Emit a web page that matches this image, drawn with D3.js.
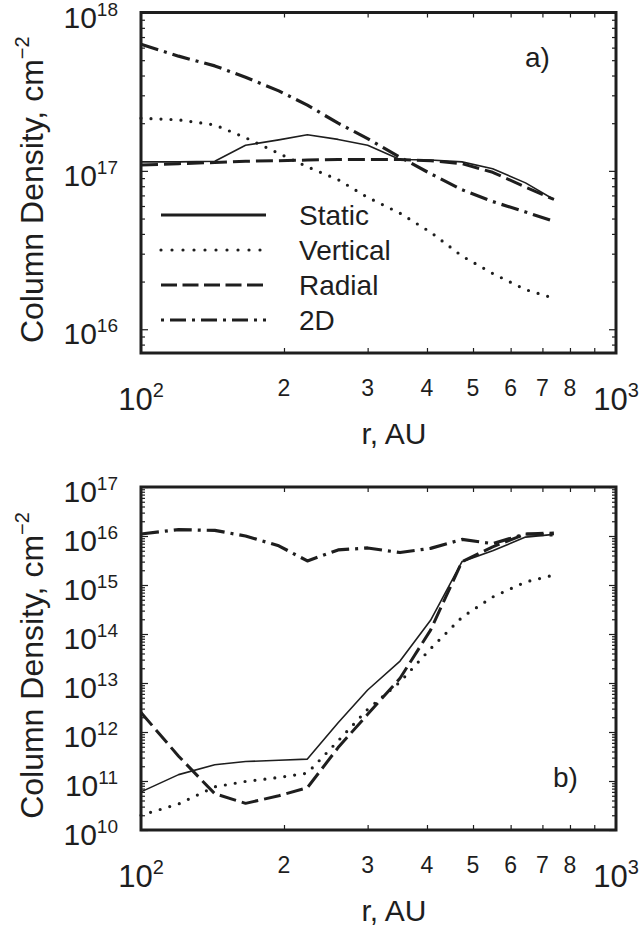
<!DOCTYPE html>
<html><head><meta charset="utf-8">
<script src="https://cdn.jsdelivr.net/npm/d3@7"></script>
<style>
body{margin:0;background:#fff}
svg{display:block}
text{font-family:"Liberation Sans",Arial,Helvetica,sans-serif;fill:#1e1e1e}
</style>
</head><body>
<svg id="c" width="643" height="932"></svg>
<script>
// ---- data ----
const radius = [100,120,143,166,195,224,260,300,351,407,474,550,645,740];

// panel a
const aStatic   = [1.14e17,1.14e17,1.15e17,1.45e17,1.57e17,1.69e17,1.58e17,1.45e17,1.18e17,1.17e17,1.14e17,1.03e17,8.4e16,6.6e16];
const aVertical = [2.15e17,2.1e17,1.95e17,1.62e17,1.29e17,1.06e17,8.8e16,6.8e16,5.4e16,4.1e16,2.9e16,2.25e16,1.78e16,1.57e16];
const aRadial   = [1.09e17,1.11e17,1.13e17,1.15e17,1.16e17,1.17e17,1.18e17,1.18e17,1.18e17,1.16e17,1.11e17,9.8e16,7.9e16,6.6e16];
const a2D       = [6.3e17,5.3e17,4.6e17,3.9e17,3.2e17,2.6e17,2.0e17,1.6e17,1.22e17,9.6e16,7.6e16,6.4e16,5.5e16,4.8e16];

// panel b
const bStatic   = [6.0e10,1.35e11,2.15e11,2.5e11,2.65e11,2.8e11,1.55e12,7.2e12,2.8e13,1.9e14,3.0e15,5.0e15,9.5e15,1.08e16];
const bVertical = [2.0e10,3.4e10,7.6e10,9.8e10,1.18e11,1.45e11,6.6e11,2.9e12,1.05e13,5.0e13,2.2e14,5.7e14,1.15e15,1.6e15];
const bRadial   = [2.5e12,3.2e11,5.5e10,3.5e10,5.0e10,7.3e10,4.8e11,2.3e12,1.25e13,1.2e14,3.0e15,6.0e15,1.1e16,1.15e16];
const b2D       = [1.1e16,1.35e16,1.3e16,1.0e16,6.3e15,3.1e15,5.2e15,5.7e15,4.6e15,5.6e15,8.5e15,7.0e15,1.1e16,1.05e16];

const seriesNames = ["Static","Vertical","Radial","2D"];
const xMinorLabels = [2,3,4,5,6,7,8];
const xDecadeTicks = [100,1000];
const aDecadeTicks = [1e16,1e17,1e18];
const bDecadeTicks = [1e10,1e11,1e12,1e13,1e14,1e15,1e16,1e17];
const panelLabels = ["a)","b)"];
const xTitle = "r, AU";
const yTitle = "Column Density, cm";

// ---- styles ----
const INK = "#1e1e1e";
const styles = {
  "Static":   {w:1.6, dash:null, cap:"butt", lw:3, ldash:null},
  "Vertical": {w:3.2, dash:"0,10", cap:"round", lw:3.2, ldash:"0,11"},
  "Radial":   {w:3,   dash:"17,6", cap:"butt", lw:3, ldash:"16,5.5"},
  "2D":       {w:3.2, dash:"18,6,3,6", cap:"butt", lw:3, ldash:"3,6,16,6"}
};

const svg = d3.select("#c");
const X0 = 141, X1 = 616;
const x = d3.scaleLog().domain([100,1000]).range([X0,X1]);

const panels = [
  {top:12.5, bottom:353, ydom:[Math.pow(10,15.85),1e18], decades:aDecadeTicks,
   data:[aStatic,aVertical,aRadial,a2D], label:panelLabels[0], lx:525, ly:67, legend:true},
  {top:487, bottom:830, ydom:[1e10,1e17], decades:bDecadeTicks,
   data:[bStatic,bVertical,bRadial,b2D], label:panelLabels[1], lx:553, ly:787, legend:false}
];

const fmtExp = v => Math.round(Math.log10(v)).toString();

panels.forEach(p => {
  const y = d3.scaleLog().domain(p.ydom).range([p.bottom,p.top]);
  const g = svg.append("g");

  // minor / major y ticks
  const yAll = y.ticks().filter(v => v>=p.ydom[0]*0.999 && v<=p.ydom[1]*1.001);
  const yMinor = yAll.filter(v => !p.decades.some(d => Math.abs(d-v)/d < 1e-6));
  const xAll = x.ticks();
  const xMinor = xAll.filter(v => v>100 && v<1000);

  const addAxis = (axis, tr) => {
    const a = g.append("g").attr("transform", tr).call(axis);
    a.select(".domain").remove();
    a.selectAll("line").attr("stroke", INK).attr("stroke-width", 1.2);
    a.selectAll("text").remove();
  };
  addAxis(d3.axisLeft(y).tickValues(yMinor).tickSize(-4), `translate(${X0},0)`);
  addAxis(d3.axisLeft(y).tickValues(p.decades).tickSize(-7), `translate(${X0},0)`);
  addAxis(d3.axisRight(y).tickValues(yMinor).tickSize(-4), `translate(${X1},0)`);
  addAxis(d3.axisRight(y).tickValues(p.decades).tickSize(-7), `translate(${X1},0)`);
  addAxis(d3.axisBottom(x).tickValues(xMinor).tickSize(-5), `translate(0,${p.bottom})`);
  addAxis(d3.axisTop(x).tickValues(xMinor).tickSize(-5), `translate(0,${p.top})`);

  // series lines
  seriesNames.forEach((name,i) => {
    const s = styles[name];
    const pts = radius.map((r,k) => [r, p.data[i][k]]);
    const line = d3.line().x(d => x(d[0])).y(d => y(d[1]));
    g.append("path").attr("d", line(pts)).attr("fill","none")
      .attr("stroke", INK).attr("stroke-width", s.w)
      .attr("stroke-linecap", s.cap).attr("stroke-linejoin","round")
      .attr("stroke-dasharray", s.dash);
  });

  // box
  g.append("rect").attr("x",X0).attr("y",p.top).attr("width",X1-X0).attr("height",p.bottom-p.top)
    .attr("fill","none").attr("stroke",INK).attr("stroke-width",3);

  // y decade labels
  p.decades.forEach(v => {
    const t = g.append("text").attr("x",118).attr("y",y(v)+15).attr("text-anchor","end")
      .style("font-size","30px");
    t.append("tspan").text("10");
    t.append("tspan").attr("dy",-12).style("font-size","19px").text(fmtExp(v));
  });

  // x labels
  xDecadeTicks.forEach(v => {
    const t = g.append("text").attr("x",x(v)).attr("y",p.bottom+57).attr("text-anchor","middle")
      .style("font-size","31px");
    t.append("tspan").text("10");
    t.append("tspan").attr("dy",-13).style("font-size","20px").text(fmtExp(v));
  });
  xMinorLabels.forEach(v => {
    g.append("text").attr("x",x(v*100)).attr("y",p.bottom+43).attr("text-anchor","middle")
      .style("font-size","23px").text(v);
  });

  // axis titles
  g.append("text").attr("x",394).attr("y",p.bottom+91).attr("text-anchor","middle")
    .style("font-size","30px").text(xTitle);
  const cy = (p.top+p.bottom)/2 + 7;
  const yt = g.append("text").attr("transform",`translate(43,${cy}) rotate(-90)`)
    .attr("text-anchor","middle").style("font-size","32px");
  yt.append("tspan").text(yTitle);
  yt.append("tspan").attr("dy",-14).style("font-size","20px").text("\u22122");

  // panel label
  g.append("text").attr("x",p.lx).attr("y",p.ly).style("font-size","28px").text(p.label);

  // legend
  if (p.legend) {
    const ly0 = 215, dy = 35;
    seriesNames.forEach((name,i) => {
      const s = styles[name];
      const yy = ly0 + i*dy;
      g.append("line").attr("x1",161).attr("x2",266).attr("y1",yy).attr("y2",yy)
        .attr("stroke",INK).attr("stroke-width",s.lw).attr("stroke-linecap",s.cap)
        .attr("stroke-dasharray",s.ldash);
      g.append("text").attr("x",299).attr("y",yy+10).style("font-size","28px").text(name);
    });
  }
});
</script>
</body></html>
